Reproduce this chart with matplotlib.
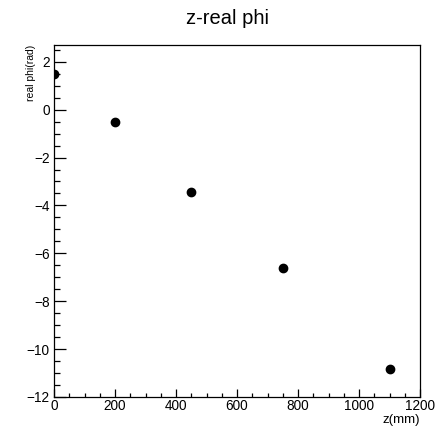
import matplotlib
matplotlib.use("Agg")
import matplotlib.pyplot as plt
from matplotlib.ticker import MultipleLocator

plt.rcParams['font.family'] = ['Liberation Sans', 'DejaVu Sans']

z_mm = [0, 200, 450, 750, 1100]
real_phi = [1.5, -0.5, -3.45, -6.63, -10.83]

fig = plt.figure(figsize=(4.38, 4.32), dpi=100)
ax = fig.add_axes([54/438, 35/432, 366/438, 352/432])
ax.plot(z_mm, real_phi, 'o', color='black', ms=6, mec='black')
ax.set_xlim(0, 1200)
ax.set_ylim(-12, 2.7)

ax.xaxis.set_major_locator(MultipleLocator(200))
ax.xaxis.set_minor_locator(MultipleLocator(50))
ax.yaxis.set_major_locator(MultipleLocator(2))
ax.yaxis.set_minor_locator(MultipleLocator(0.5))

ax.tick_params(axis='both', which='both', direction='in', top=False, right=False,
               labelsize=9.8, width=0.9)
ax.tick_params(axis='y', which='major', length=8.6, pad=3)
ax.tick_params(axis='y', which='minor', length=4.3)
ax.tick_params(axis='x', which='major', length=6, pad=1.5)
ax.tick_params(axis='x', which='minor', length=3.2)
for s in ax.spines.values():
    s.set_linewidth(0.9)

fig.text(0.5 + 0.02, 1 - 18/432, 'z-real phi', ha='center', va='center', fontsize=14.5)
ax.set_xlabel('z(mm)', fontsize=9.5, loc='right', labelpad=1)
ax.set_ylabel('real phi(rad)', fontsize=7.5, loc='top')
ax.yaxis.set_label_coords(-18/366, 1.0)

fig.savefig('out.png', dpi=100)
